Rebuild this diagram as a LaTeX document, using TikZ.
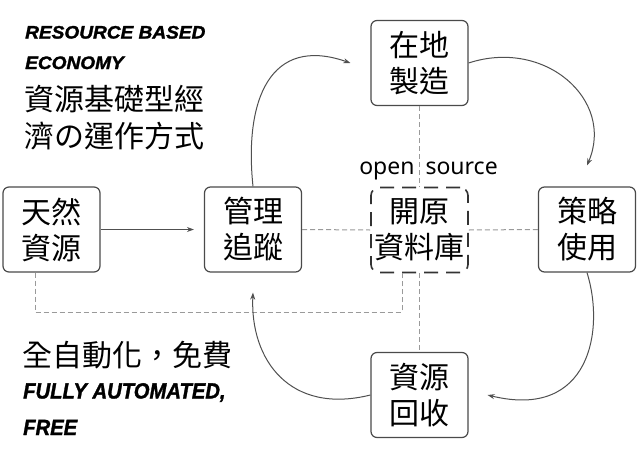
\documentclass[tikz,border=0pt]{standalone}
\usepackage{fontspec}
\setmainfont{Liberation Sans}
\newfontfamily\cjk{Noto Sans CJK TC}
\newfontfamily\notosans{Noto Sans}
\newfontfamily\heavyfont[BoldItalicFeatures={FakeBold=1.6,FakeStretch=1.06}]{Liberation Sans}
\newfontfamily\condfont[BoldItalicFeatures={FakeBold=1.4,FakeStretch=0.92}]{Liberation Sans}
\usetikzlibrary{arrows.meta}
\definecolor{boxgray}{HTML}{4A4A4A}
\definecolor{dboxgray}{HTML}{333333}
\definecolor{dashgray}{HTML}{9A9A9A}
\definecolor{arrowgray}{HTML}{505050}
\tikzset{
  box/.style={draw=boxgray, line width=1.2pt, rounded corners=6pt, fill=white,
    minimum width=97pt, minimum height=85pt, inner sep=0pt, align=center,
    font=\cjk\fontsize{30}{36}\selectfont},
  dbox/.style={box, draw=dboxgray, dash pattern=on 14pt off 8pt, line width=1.6pt, rounded corners=8pt},
  link/.style={draw=dashgray, line width=1pt, dash pattern=on 5pt off 3pt},
  flow/.style={draw=arrowgray, line width=1pt, -{Stealth[length=7pt,width=5pt]}},
  heading/.style={anchor=base west, inner sep=0pt, font=\heavyfont\fontsize{18}{18}\selectfont\bfseries\itshape},
  subheading/.style={anchor=base west, inner sep=0pt, font=\condfont\fontsize{22}{22}\selectfont\bfseries\itshape},
  cjktext/.style={anchor=base west, inner sep=0pt, font=\cjk\fontsize{30}{30}\selectfont},
  note/.style={anchor=base, inner sep=0pt, font=\notosans\fontsize{23}{23}\selectfont}
}
\begin{document}
\begin{tikzpicture}[x=1pt, y=-1pt]
\useasboundingbox (0,0) rectangle (640,461);
\fill[white] (0,0) rectangle (640,461);

% titles
\node[heading] (h1) at (25,38.5) {RESOURCE BASED};
\node[heading] (h2) at (25,69) {ECONOMY};
\node[cjktext] (c1) at (24,110) {資源基礎型經};
\node[cjktext] (c2) at (24,147) {濟の運作方式};
\node[cjktext] (c3) at (22,366) {全自動化，免費};
\node[subheading] (s1) at (23,398.5) {FULLY AUTOMATED,};
\node[subheading] (s2) at (23,435) {FREE};

% label
\node[note] (os) at (428.5,174) {open\hspace{5pt} source};

% boxes
\node[box] (nat) at (51.5,229.5) {天然\\資源};
\node[box] (mgmt) at (253,229.5) {管理\\追蹤};
\node[box] (make) at (419.5,63) {在地\\製造};
\node[dbox] (open) at (419.5,230) {開原\\資料庫};
\node[box] (strat) at (587,229.5) {策略\\使用};
\node[box] (recyc) at (419.5,395) {資源\\回收};

% dashed links
\coordinate (bend) at (402,312);
\draw[link] (make.south) -- (open.north);
\draw[link] (mgmt.east) -- (open.west);
\draw[link] (open.east) -- (strat.west);
\draw[link] (open.south) -- (recyc.north);
\draw[link] ([xshift=-16.5pt]nat.south) |- (bend) -- ([xshift=-17.5pt]open.south);

% flows
\draw[flow] (nat.east) -- ([xshift=-10pt]mgmt.west);
\draw[flow] (mgmt.north) .. controls (244,100) and (270,35) .. ([xshift=-20pt]make.west);
\draw[flow] (make.east) .. controls (545,38) and (615,100) .. ([yshift=21pt]strat.north);
\draw[flow] (strat.south) .. controls (605,330) and (590,420) .. ([xshift=19pt]recyc.east);
\draw[flow] (recyc.west) .. controls (290,415) and (250,360) .. ([yshift=-20pt]mgmt.south);
\end{tikzpicture}
\end{document}
